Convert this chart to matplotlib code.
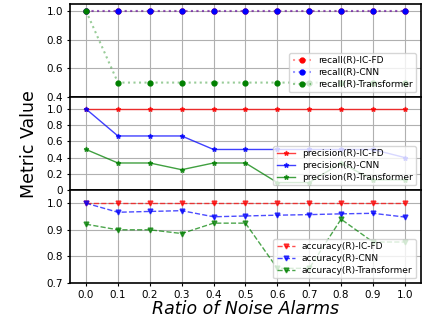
import matplotlib
matplotlib.use("Agg")
import matplotlib.pyplot as plt

ratios = [0.0, 0.1, 0.2, 0.3, 0.4, 0.5, 0.6, 0.7, 0.8, 0.9, 1.0]

recall_icfd = [1.0] * 11
recall_cnn = [1.0] * 11
recall_trans = [1.0, 0.5, 0.5, 0.5, 0.5, 0.5, 0.5, 0.5, 0.5, 0.5, 0.5]

prec_icfd = [1.0] * 11
prec_cnn = [1.0, 0.667, 0.667, 0.667, 0.5, 0.5, 0.5, 0.5, 0.5, 0.5, 0.4]
prec_trans = [0.5, 0.333, 0.333, 0.25, 0.333, 0.333, 0.091, 0.091, 0.333, 0.125, 0.125]

acc_icfd = [1.0] * 11
acc_cnn = [1.0, 0.966, 0.969, 0.972, 0.949, 0.952, 0.955, 0.957, 0.96, 0.962, 0.948]
acc_trans = [0.921, 0.9, 0.9, 0.886, 0.925, 0.925, 0.755, 0.755, 0.94, 0.854, 0.854]

names = ["IC-FD", "CNN", "Transformer"]
colors = ["red", "blue", "green"]

fig, axes = plt.subplots(3, 1, figsize=(4.25, 3.23), dpi=100, sharex=True)
fig.subplots_adjust(left=0.165, right=0.99, top=0.988, bottom=0.124, hspace=0)

# recall panel
ax = axes[0]
for vals, nm, c in zip([recall_icfd, recall_cnn, recall_trans], names, colors):
    rgba = matplotlib.colors.to_rgba(c, 0.4)
    ax.plot(ratios, vals, linestyle=':', marker='o', markersize=3.5,
            color=rgba, markerfacecolor=c, markeredgecolor=c,
            label=f"recall(R)-{nm}")
ax.set_ylim(0.4, 1.05)
ax.set_yticks([0.4, 0.6, 0.8, 1.0])
ax.set_yticklabels(["0.4", "0.6", "0.8", "1.0"])

# precision panel
ax = axes[1]
for vals, nm, c in zip([prec_icfd, prec_cnn, prec_trans], names, colors):
    ax.plot(ratios, vals, linestyle='-', marker='*', markersize=3.5,
            color=c, linewidth=1, alpha=0.75, label=f"precision(R)-{nm}")
ax.set_ylim(0, 1.15)
ax.set_yticks([0, 0.2, 0.4, 0.6, 0.8, 1.0])
ax.set_yticklabels(["0", "0.2", "0.4", "0.6", "0.8", "1.0"])

# accuracy panel
ax = axes[2]
for vals, nm, c in zip([acc_icfd, acc_cnn, acc_trans], names, colors):
    ax.plot(ratios, vals, linestyle='--', marker='v', markersize=3.5,
            color=c, linewidth=1, alpha=0.7, label=f"accuracy(R)-{nm}")
ax.set_ylim(0.7, 1.05)
ax.set_yticks([0.7, 0.8, 0.9, 1.0])

for ax in axes:
    ax.grid(True, color='#b0b0b0', linewidth=0.8)
    ax.legend(loc='lower right', fontsize=6.5, handlelength=2,
              borderpad=0.4, labelspacing=0.3, framealpha=0.8)
    ax.tick_params(labelsize=7.5, length=2.5, pad=2.5)
    for s in ax.spines.values():
        s.set_linewidth(1.2)

axes[2].set_xlim(-0.05, 1.05)
axes[2].set_xticks(ratios)
axes[2].set_xticklabels([f"{r:.1f}" for r in ratios])
axes[2].set_xlabel("Ratio of Noise Alarms", fontsize=12.5, style='italic', labelpad=0)
fig.text(0.068, 0.555, "Metric Value", rotation=90, fontsize=12.5,
         ha='center', va='center')

fig.savefig("out.png", dpi=100)
